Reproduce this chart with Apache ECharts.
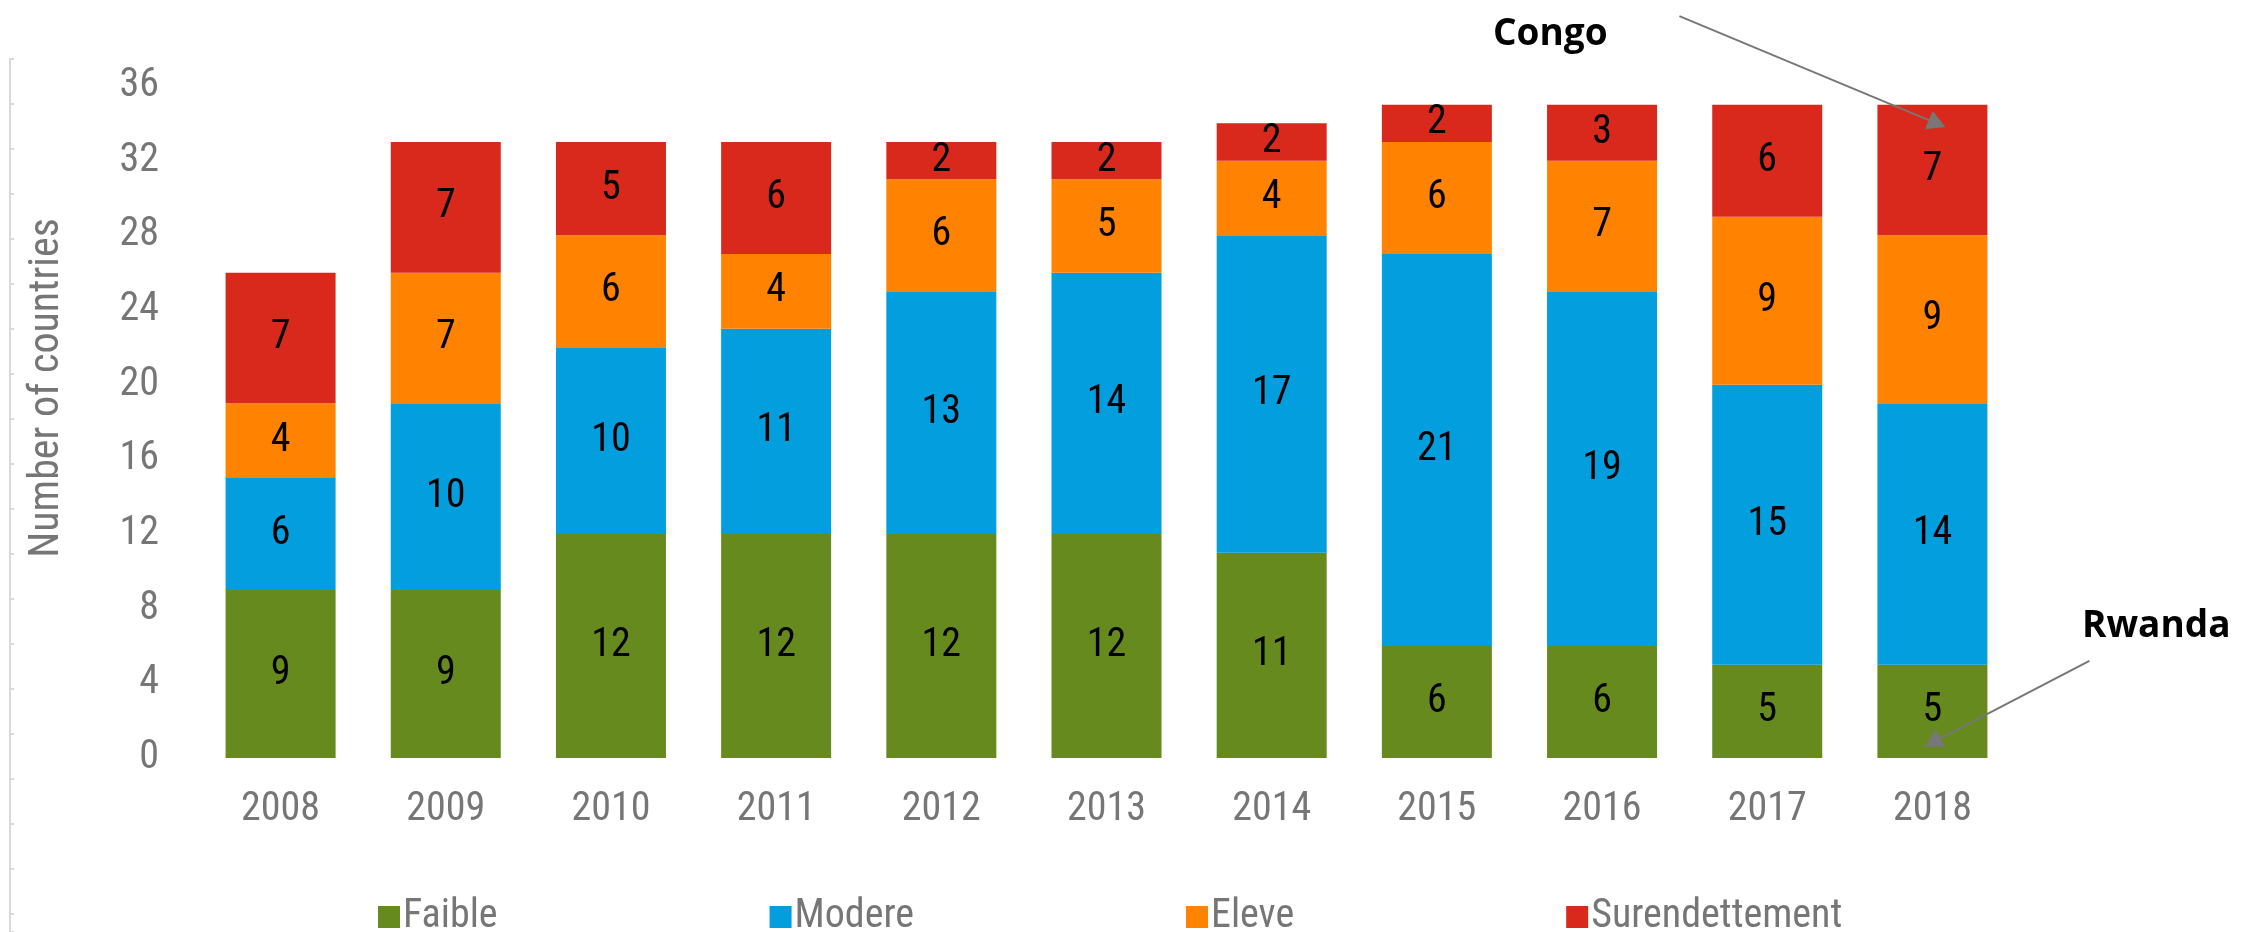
<!DOCTYPE html>
<html>
<head>
<meta charset="utf-8">
<script src="https://cdn.jsdelivr.net/npm/echarts@6/dist/echarts.min.js"></script>
<style>
  html, body { margin: 0; padding: 0; background: #fff; }
  #chart { width: 2244px; height: 932px; }
</style>
</head>
<body>
<div id="chart"></div>
<script>
// data
const years = ['2008', '2009', '2010', '2011', '2012', '2013', '2014', '2015', '2016', '2017', '2018']
const faible = [9, 9, 12, 12, 12, 12, 11, 6, 6, 5, 5]
const modere = [6, 10, 10, 11, 13, 14, 17, 21, 19, 15, 14]
const eleve = [4, 7, 6, 4, 6, 5, 4, 6, 7, 9, 9]
const surendettement = [7, 7, 5, 6, 2, 2, 2, 2, 3, 6, 7]
const seriesNames = ['Faible', 'Modere', 'Eleve', 'Surendettement']
const seriesColors = ['#678a1e', '#029edd', '#ff8200', '#d9291c']

const narrow = "'Liberation Sans Narrow', 'Arial Narrow', 'Roboto Condensed', sans-serif"
const grey = '#767676'

const chart = echarts.init(document.getElementById('chart'))

function makeSeries(name, data, color) {
  return {
    name: name,
    type: 'bar',
    stack: 'total',
    barWidth: 110,
    data: data,
    itemStyle: { color: color },
    label: {
      show: true,
      position: 'inside',
      color: '#000',
      fontFamily: narrow,
      fontSize: 40
    },
    animation: false
  }
}

chart.setOption({
  animation: false,
  legend: {
    data: seriesNames,
    left: 373,
    top: 892,
    itemWidth: 22,
    itemHeight: 22,
    itemGap: 272,
    icon: 'rect',
    textStyle: { color: grey, fontFamily: narrow, fontSize: 40, padding: [0, 0, 0, -2] }
  },
  grid: [
    { left: 198, right: 229, top: 86, bottom: 174, outerBoundsMode: 'none' },
    { left: 10, width: 1, top: 59, bottom: 0, outerBoundsMode: 'none' }
  ],
  xAxis: [
    {
      type: 'category',
      data: years,
      axisLine: { show: false },
      axisTick: { show: false },
      axisLabel: { color: grey, fontFamily: narrow, fontSize: 40, margin: 32 }
    },
    { type: 'value', gridIndex: 1, show: false }
  ],
  yAxis: [
    {
      type: 'value',
      min: 0,
      max: 36,
      interval: 4,
      name: 'Number of countries',
      nameLocation: 'middle',
      nameGap: 130,
      nameTextStyle: { color: grey, fontFamily: narrow, fontSize: 42, padding: [0, 0, 0, 68] },
      axisLine: { show: false },
      axisTick: { show: false },
      splitLine: { show: false },
      axisLabel: { color: grey, fontFamily: narrow, fontSize: 40, margin: 39 }
    },
    {
      // faint axis fragment along the left edge
      type: 'value',
      gridIndex: 1,
      inverse: true,
      min: 0,
      max: 19.4,
      interval: 1,
      axisLine: { show: true, lineStyle: { color: '#d9d9d9', width: 2 } },
      axisTick: { show: true, inside: true, length: 4, lineStyle: { color: '#d9d9d9', width: 2 } },
      axisLabel: { show: false },
      splitLine: { show: false }
    }
  ],
  series: [
    makeSeries(seriesNames[0], faible, seriesColors[0]),
    makeSeries(seriesNames[1], modere, seriesColors[1]),
    makeSeries(seriesNames[2], eleve, seriesColors[2]),
    makeSeries(seriesNames[3], surendettement, seriesColors[3])
  ]
})

// annotation arrows, anchored to the 2018 bar
function arrow(tip, from, text, textPos) {
  const dx = tip[0] - from[0]
  const dy = tip[1] - from[1]
  const len = Math.sqrt(dx * dx + dy * dy)
  const ux = dx / len
  const uy = dy / len
  const hl = 18
  const hw = 10
  const bx = tip[0] - ux * hl
  const by = tip[1] - uy * hl
  return [
    {
      type: 'line',
      z: 100,
      shape: { x1: from[0], y1: from[1], x2: bx, y2: by },
      style: { stroke: '#777', lineWidth: 2 }
    },
    {
      type: 'polygon',
      z: 100,
      shape: { points: [tip, [bx - uy * hw, by + ux * hw], [bx + uy * hw, by - ux * hw]] },
      style: { fill: '#777' }
    },
    {
      type: 'text',
      z: 100,
      x: textPos[0],
      y: textPos[1],
      style: {
        text: text,
        fill: '#000',
        font: "bold 37px 'Open Sans', sans-serif",
        verticalAlign: 'middle'
      }
    }
  ]
}

const congoTip = chart.convertToPixel({ gridIndex: 0 }, ['2018', 33.8])
congoTip[0] += 13
const rwandaTip = chart.convertToPixel({ gridIndex: 0 }, ['2018', 0.6])
rwandaTip[0] -= 8

chart.setOption({
  graphic: [].concat(
    arrow(congoTip, [congoTip[0] - 266, congoTip[1] - 111], 'Congo', [1493, 34]),
    arrow(rwandaTip, [rwandaTip[0] + 165, rwandaTip[1] - 86], 'Rwanda', [2082, 626])
  )
})
</script>
</body>
</html>
